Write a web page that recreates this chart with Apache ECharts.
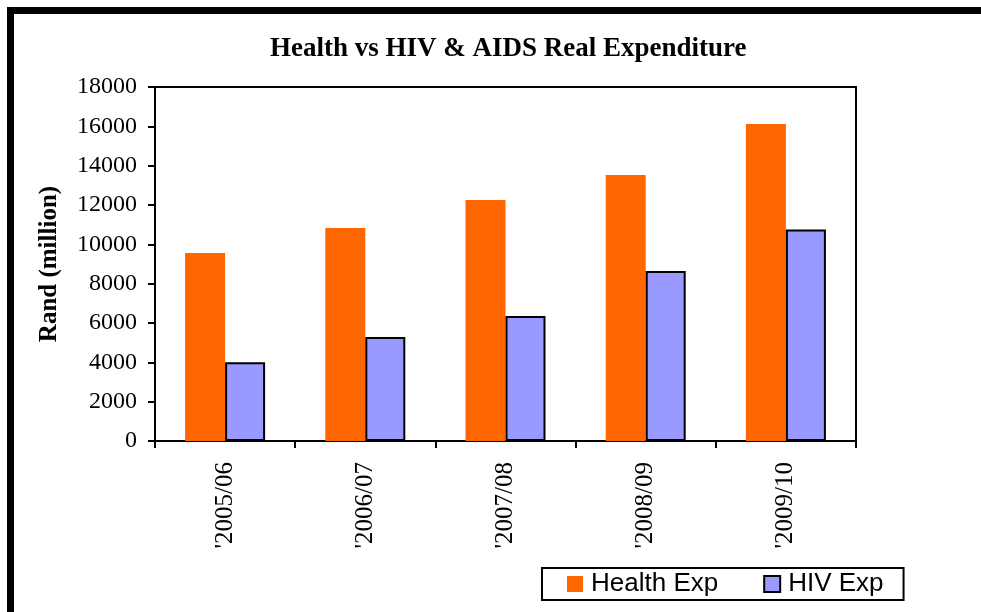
<!DOCTYPE html>
<html>
<head>
<meta charset="utf-8">
<script src="https://cdn.jsdelivr.net/npm/echarts@6/dist/echarts.min.js"></script>
<style>
html,body{margin:0;padding:0;background:#fff;}
#chart{width:981px;height:612px;}
</style>
</head>
<body>
<div id="chart"></div>
<script>
const categories = ["'2005/06", "'2006/07", "'2007/08", "'2008/09", "'2009/10"];
const healthExp = [9560, 10830, 12250, 13530, 16120];
const hivExp = [4000, 5290, 6360, 8640, 10760];
const yTicks = [0, 2000, 4000, 6000, 8000, 10000, 12000, 14000, 16000, 18000];

const chart = echarts.init(document.getElementById('chart'), null, {renderer: 'canvas'});
const serif = '"Liberation Serif", "Times New Roman", serif';
const sans = '"Liberation Sans", Arial, sans-serif';

chart.setOption({
  backgroundColor: '#ffffff',
  animation: false,
  graphic: [{
    type: 'rect',
    shape: {x: 10.5, y: 10.5, width: 1200, height: 1200},
    style: {fill: 'none', stroke: '#000', lineWidth: 7},
    z: 100
  }],
  title: {
    text: 'Health vs HIV & AIDS Real Expenditure',
    left: 265,
    top: 31,
    textStyle: {fontFamily: serif, fontWeight: 'bold', fontSize: 27, color: '#000'}
  },
  legend: {
    left: 542,
    top: 568,
    orient: 'horizontal',
    icon: 'rect',
    itemWidth: 16,
    itemHeight: 16,
    itemGap: 45,
    padding: [3, 20, 3, 25],
    borderColor: '#000',
    borderWidth: 2,
    backgroundColor: '#fff',
    textStyle: {fontFamily: sans, fontSize: 26, color: '#000', padding: [0, 0, 0, 3]},
    data: ['Health Exp', 'HIV Exp']
  },
  grid: {
    left: 155, right: 125, top: 87, bottom: 171,
    show: true, borderColor: '#000', borderWidth: 2, backgroundColor: 'transparent'
  },
  xAxis: {
    type: 'category',
    data: categories,
    axisLine: {lineStyle: {color: '#000', width: 2}},
    axisTick: {show: true, length: 7, lineStyle: {color: '#000', width: 2}, alignWithLabel: false},
    axisLabel: {rotate: 90, margin: 21, fontFamily: serif, fontSize: 25, color: '#000'},
    splitLine: {show: false}
  },
  yAxis: {
    type: 'value',
    min: yTicks[0],
    max: yTicks[yTicks.length - 1],
    interval: 2000,
    name: 'Rand (million)',
    nameLocation: 'middle',
    nameGap: 93,
    nameTextStyle: {fontFamily: serif, fontWeight: 'bold', fontSize: 25, color: '#000'},
    axisLine: {show: true, lineStyle: {color: '#000', width: 2}},
    axisTick: {show: true, length: 7, lineStyle: {color: '#000', width: 2}},
    axisLabel: {margin: 18, fontFamily: serif, fontSize: 24, color: '#000', formatter: function (v) { return String(v); }},
    splitLine: {show: false}
  },
  series: [
    {
      name: 'Health Exp',
      type: 'bar',
      data: healthExp,
      barWidth: 40,
      barGap: '0%',
      itemStyle: {color: '#FF6600'}
    },
    {
      name: 'HIV Exp',
      type: 'bar',
      data: hivExp,
      barWidth: 40,
      barGap: '0%',
      itemStyle: {color: '#9999FF', borderColor: '#000', borderWidth: 2}
    }
  ]
});
</script>
</body>
</html>
